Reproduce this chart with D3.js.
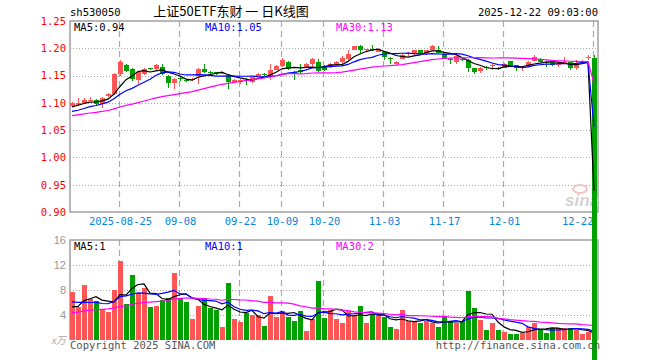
<!DOCTYPE html>
<html>
<head>
<meta charset="utf-8">
<script src="https://cdn.jsdelivr.net/npm/d3@7"></script>
<style>
body { margin: 0; background: #fff; }
svg { display: block; }
</style>
</head>
<body>
<svg width="660" height="360"></svg>
<script>
// trading days shown, 2025
var dates = [
  "08-13","08-14","08-15","08-18","08-19","08-20","08-21","08-22","08-25","08-26","08-27","08-28","08-29",
  "09-01","09-02","09-03","09-04","09-05","09-08","09-09","09-10","09-11","09-12","09-15","09-16","09-17","09-18","09-19",
  "09-22","09-23","09-24","09-25","09-26","09-29","09-30",
  "10-09","10-10","10-13","10-14","10-15","10-16","10-17","10-20","10-21","10-22","10-23","10-24","10-27","10-28","10-29","10-30","10-31",
  "11-03","11-04","11-05","11-06","11-07","11-10","11-11","11-12","11-13","11-14","11-17","11-18","11-19","11-20","11-21","11-24","11-25","11-26","11-27","11-28",
  "12-01","12-02","12-03","12-04","12-05","12-08","12-09","12-10","12-11","12-12","12-15","12-16","12-17","12-18","12-19","12-22"
];
var opens = [
  1.094,1.096,1.100,1.105,1.106,1.097,1.113,1.116,1.153,1.169,1.162,1.141,1.153,1.163,1.162,1.166,1.150,1.136,1.145,1.142,
  1.141,1.150,1.162,1.157,1.156,1.153,1.150,1.138,1.139,1.142,1.138,1.150,1.153,1.147,1.161,1.167,1.175,1.157,1.161,1.166,
  1.172,1.175,1.167,1.166,1.169,1.174,1.181,1.197,1.204,1.196,1.198,1.194,1.194,1.182,1.172,1.181,1.190,1.189,1.196,1.191,
  1.196,1.196,1.189,1.180,1.174,1.180,1.178,1.163,1.158,1.165,1.168,1.163,1.164,1.176,1.169,1.164,1.166,1.177,1.181,1.175,
  1.175,1.171,1.174,1.174,1.163,1.176,1.183,1.183
];
var highs = [
  1.102,1.109,1.108,1.110,1.107,1.110,1.118,1.154,1.178,1.172,1.163,1.157,1.164,1.164,1.172,1.172,1.151,1.146,1.147,1.144,
  1.145,1.164,1.172,1.159,1.157,1.157,1.152,1.143,1.144,1.145,1.148,1.155,1.155,1.172,1.169,1.182,1.177,1.159,1.172,1.173,
  1.183,1.181,1.169,1.173,1.177,1.185,1.196,1.205,1.206,1.199,1.206,1.199,1.195,1.184,1.176,1.189,1.194,1.197,1.197,1.197,
  1.206,1.204,1.190,1.183,1.186,1.182,1.180,1.164,1.166,1.167,1.172,1.165,1.173,1.177,1.170,1.168,1.177,1.188,1.183,1.176,
  1.176,1.174,1.184,1.175,1.179,1.179,1.188,1.188
];
var lows = [
  1.092,1.094,1.099,1.103,1.095,1.091,1.111,1.115,1.150,1.157,1.140,1.134,1.151,1.160,1.161,1.151,1.128,1.125,1.140,1.139,
  1.140,1.134,1.155,1.153,1.151,1.152,1.125,1.136,1.134,1.133,1.136,1.149,1.150,1.141,1.160,1.165,1.160,1.141,1.153,1.164,
  1.166,1.157,1.159,1.164,1.168,1.172,1.178,1.196,1.192,1.195,1.195,1.193,1.178,1.172,1.167,1.180,1.186,1.188,1.188,1.188,
  1.195,1.189,1.182,1.172,1.172,1.176,1.156,1.153,1.154,1.160,1.161,1.160,1.163,1.166,1.159,1.159,1.165,1.176,1.174,1.166,
  1.167,1.166,1.172,1.160,1.161,1.174,1.178,0
];
var closes = [
  1.100,1.100,1.106,1.106,1.097,1.109,1.116,1.153,1.175,1.159,1.144,1.156,1.162,1.162,1.169,1.153,1.136,1.144,1.144,1.141,
  1.144,1.162,1.156,1.156,1.153,1.155,1.138,1.141,1.142,1.141,1.147,1.153,1.152,1.161,1.167,1.179,1.162,1.156,1.156,1.172,
  1.181,1.159,1.161,1.172,1.175,1.183,1.189,1.204,1.196,1.198,1.197,1.197,1.184,1.181,1.175,1.188,1.191,1.196,1.189,1.196,
  1.204,1.191,1.183,1.179,1.185,1.178,1.163,1.156,1.163,1.164,1.169,1.162,1.172,1.167,1.164,1.166,1.175,1.184,1.175,1.174,
  1.169,1.172,1.175,1.163,1.172,1.177,1.184,0
];
// volume, x万 units of the axis
var volumes = [
  7.7,5.3,8.8,6.6,6.2,5.0,4.5,8.0,12.6,5.8,10.4,7.6,8.4,5.3,5.5,6.4,6.7,10.8,6.8,6.1,
  3.4,5.5,6.7,5.1,4.8,2.1,9.2,3.4,2.9,4.3,4.0,4.0,2.3,7.0,3.7,4.6,3.7,3.0,4.6,1.4,
  3.4,9.5,3.6,4.8,3.4,2.8,4.6,3.9,5.5,2.7,4.1,4.4,3.7,2.1,1.8,4.8,3.0,3.0,2.7,3.0,
  2.8,2.1,3.7,3.0,2.8,3.0,7.8,5.2,3.2,1.6,2.8,1.6,1.3,1.0,1.0,1.2,2.1,2.8,1.7,1.2,
  1.9,1.9,1.9,1.9,1.6,0.9,1.3,0
];
// days before the window, only feed the moving averages
var prevCloses = [
  1.052,1.055,1.058,1.060,1.062,1.064,1.066,1.068,1.070,1.072,1.074,1.076,1.078,1.080,1.082,
  1.084,1.086,1.088,1.090,1.088,1.078,1.074,1.072,1.076,1.080,1.085,1.090,1.094,1.094
];
var prevVolumes = [
  3.2,2.8,3.5,4.1,3.0,2.6,3.8,4.4,3.3,2.9,3.6,4.0,3.1,3.7,4.2,
  3.4,3.9,3.3,4.5,3.7,6.2,8.4,7.1,5.9,6.9,4.9,4.2,5.1,4.6
];
var priceTicks = [0.90, 0.95, 1.00, 1.05, 1.10, 1.15, 1.20, 1.25];
var volumeTicks = [4, 8, 12, 16];
var tickDates = ["08-25","09-08","09-22","10-09","10-20","11-03","11-17","12-01","12-22"];
var tickLabels = ["2025-08-25","09-08","09-22","10-09","10-20","11-03","11-17","12-01","12-22"];
var maDays = [5, 10, 30];
var maColors = ["#000000", "#0000ff", "#ff00ff"];
var priceLegend = ["MA5:0.94", "MA10:1.05", "MA30:1.13"];
var volumeLegend = ["MA5:1", "MA10:1", "MA30:2"];

var svg = d3.select("svg");
var mono = "'DejaVu Sans Mono', monospace";
var frameL = 70, frameR = 598;
var red = "#ff5555", green = "#00a000";

var x = d3.scalePoint().domain(dates).range([72, 594]);
var y = d3.scaleLinear().domain([0.90, 1.25]).range([212, 21]);
var yv = d3.scaleLinear().domain([0, 16]).range([340, 240]);

function movingAvg(prev, vals, n) {
    var all = prev.concat(vals), off = prev.length;
    return vals.map(function(v, i) {
        return d3.mean(all.slice(off + i - n + 1, off + i + 1));
    });
}
function isUp(i) { return closes[i] >= opens[i]; }

// header
svg.append("text").attr("x", 70).attr("y", 16).attr("font-family", mono).attr("font-size", 10.5)
    .text("sh530050");
svg.append("text").attr("x", 231).attr("y", 16).attr("text-anchor", "middle")
    .attr("font-family", "'Noto Sans CJK SC', sans-serif").attr("font-size", 13)
    .text("上证50ETF东财 一 日K线图");
svg.append("text").attr("x", frameR).attr("y", 16).attr("text-anchor", "end")
    .attr("font-family", mono).attr("font-size", 10.5).text("2025-12-22 09:03:00");

// grids
var grid = svg.append("g");
grid.selectAll("line.h").data(priceTicks.slice(1, -1)).enter().append("line")
    .attr("x1", frameL).attr("x2", frameR)
    .attr("y1", function(d) { return Math.round(y(d)) + 0.5; })
    .attr("y2", function(d) { return Math.round(y(d)) + 0.5; })
    .attr("stroke", "#aaa").attr("stroke-dasharray", "1,2");
grid.selectAll("line.hv").data(volumeTicks.slice(0, -1)).enter().append("line")
    .attr("x1", frameL).attr("x2", frameR)
    .attr("y1", function(d) { return Math.round(yv(d)) + 0.5; })
    .attr("y2", function(d) { return Math.round(yv(d)) + 0.5; })
    .attr("stroke", "#aaa").attr("stroke-dasharray", "1,2");
[[21, 212], [240, 340]].forEach(function(r) {
    grid.selectAll(null).data(tickDates).enter().append("line")
        .attr("x1", function(d) { return x(d) - 0.5; })
        .attr("x2", function(d) { return x(d) - 0.5; })
        .attr("y1", r[0]).attr("y2", r[1])
        .attr("stroke", "#aaa").attr("stroke-width", 1.2).attr("stroke-dasharray", "6,4");
});

// frames
svg.append("rect").attr("x", frameL).attr("y", 21).attr("width", frameR - frameL).attr("height", 191)
    .attr("fill", "none").attr("stroke", "#a0a0a0").attr("stroke-width", 1.5);
svg.append("path").attr("d", "M" + frameL + ",340V240H" + frameR + "V340")
    .attr("fill", "none").attr("stroke", "#a0a0a0").attr("stroke-width", 1.5);

// axes
var ay = svg.append("g").attr("transform", "translate(66,0)")
    .call(d3.axisLeft(y).tickValues(priceTicks).tickFormat(d3.format(".2f")).tickSize(0).tickPadding(0));
ay.select(".domain").remove();
ay.selectAll("text").attr("fill", "#ff0000").attr("font-family", mono).attr("font-size", 10.5);

var av = svg.append("g").attr("transform", "translate(66,0)")
    .call(d3.axisLeft(yv).tickValues(volumeTicks).tickSize(0).tickPadding(0));
av.select(".domain").remove();
av.selectAll("text").attr("fill", "#999").attr("font-family", "'Liberation Sans', sans-serif").attr("font-size", 11);
svg.append("text").attr("x", 66).attr("y", 344).attr("text-anchor", "end").attr("fill", "#aaa")
    .attr("font-style", "italic").attr("font-family", "'Noto Sans CJK SC', sans-serif").attr("font-size", 10)
    .text("x万");

var ax = svg.append("g").attr("transform", "translate(0,218)")
    .call(d3.axisBottom(x).tickValues(tickDates)
        .tickFormat(function(d, i) { return tickLabels[i]; }).tickSize(0).tickPadding(0));
ax.select(".domain").remove();
ax.selectAll("text").attr("fill", "#0a84d8").attr("font-family", mono).attr("font-size", 10.5);
ax.selectAll(".tick:last-of-type text").attr("text-anchor", "end").attr("x", -1);

// watermark
svg.append("ellipse").attr("cx", 580).attr("cy", 189).attr("rx", 7).attr("ry", 4)
    .attr("fill", "none").attr("stroke", "#f4c4c4").attr("stroke-width", 2);
svg.append("text").attr("x", 565).attr("y", 206).attr("fill", "#d4d4d4")
    .attr("font-family", "'Liberation Sans', sans-serif").attr("font-weight", "bold")
    .attr("font-style", "italic").attr("font-size", 17).text("sina");

// volume bars
var idx = d3.range(dates.length);
svg.append("g").selectAll("rect").data(idx).enter().append("rect")
    .attr("x", function(i) { return x(dates[i]) - 2.5; })
    .attr("width", 5)
    .attr("y", function(i) { return yv(volumes[i]); })
    .attr("height", function(i) { return yv(0) - yv(volumes[i]); })
    .attr("fill", function(i) { return isUp(i) ? red : green; })
    .attr("shape-rendering", "crispEdges");

var vline = d3.line().x(function(d, i) { return x(dates[i]); }).y(function(d) { return yv(d); });
maDays.forEach(function(n, k) {
    svg.append("path").datum(movingAvg(prevVolumes, volumes, n))
        .attr("d", vline).attr("fill", "none").attr("stroke", maColors[k]).attr("stroke-width", 1.2);
});

// candles
var candle = svg.append("g").selectAll("g").data(idx).enter().append("g")
    .attr("fill", function(i) { return isUp(i) ? red : green; })
    .attr("stroke", function(i) { return isUp(i) ? red : green; });
candle.append("line")
    .attr("x1", function(i) { return x(dates[i]); })
    .attr("x2", function(i) { return x(dates[i]); })
    .attr("y1", function(i) { return y(highs[i]); })
    .attr("y2", function(i) { return y(lows[i]); })
    .attr("shape-rendering", "crispEdges");
candle.append("rect")
    .attr("x", function(i) { return x(dates[i]) - 2.5; })
    .attr("width", 5)
    .attr("y", function(i) { return y(Math.max(opens[i], closes[i])); })
    .attr("height", function(i) { return Math.max(1, Math.abs(y(opens[i]) - y(closes[i]))); })
    .attr("stroke", "none")
    .attr("shape-rendering", "crispEdges");

var pline = d3.line().x(function(d, i) { return x(dates[i]); }).y(function(d) { return y(d); });
maDays.forEach(function(n, k) {
    svg.append("path").datum(movingAvg(prevCloses, closes, n))
        .attr("d", pline).attr("fill", "none").attr("stroke", maColors[k]).attr("stroke-width", 1.2);
});

// legends
var legendX = [74, 205, 336];
svg.selectAll("text.pl").data(priceLegend).enter().append("text")
    .attr("x", function(d, i) { return legendX[i]; }).attr("y", 31)
    .attr("fill", function(d, i) { return maColors[i]; })
    .attr("font-family", mono).attr("font-size", 10.5).text(function(d) { return d; });
svg.selectAll("text.vl").data(volumeLegend).enter().append("text")
    .attr("x", function(d, i) { return legendX[i]; }).attr("y", 250)
    .attr("fill", function(d, i) { return maColors[i]; })
    .attr("font-family", mono).attr("font-size", 10.5).text(function(d) { return d; });

// footer
svg.append("text").attr("x", 70).attr("y", 349).attr("fill", "#555")
    .attr("font-family", mono).attr("font-size", 10.5).text("Copyright 2025 SINA.COM");
svg.append("text").attr("x", 600).attr("y", 349).attr("text-anchor", "end").attr("fill", "#555")
    .attr("font-family", mono).attr("font-size", 10.5).text("http://finance.sina.com.cn");
</script>
</body>
</html>
